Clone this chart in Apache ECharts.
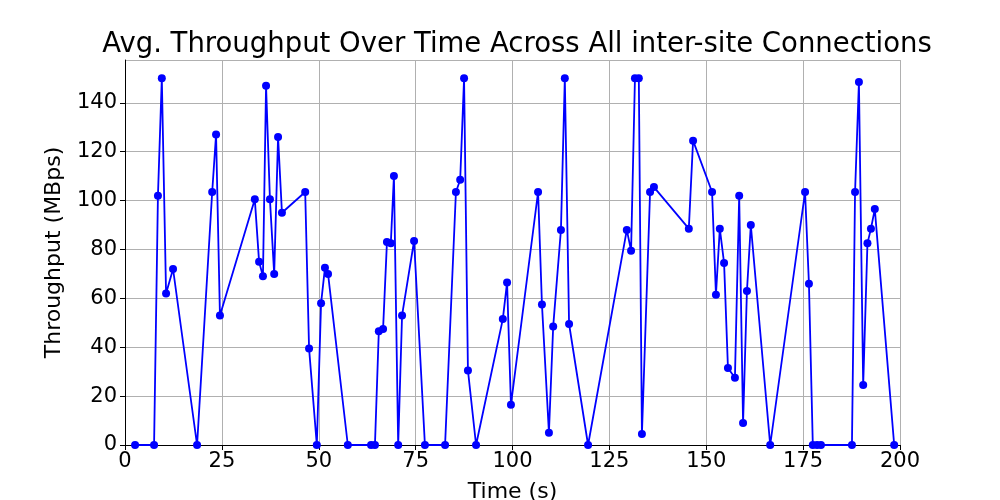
<!DOCTYPE html>
<html><head><meta charset="utf-8">
<script src="https://cdn.jsdelivr.net/npm/echarts@6/dist/echarts.min.js"></script>
</head><body style="margin:0">
<div id="c" style="width:1000px;height:500px"></div>
<script>
const times=[2.6,7.5,8.5,9.5,10.6,12.4,18.6,22.5,23.5,24.5,33.5,34.6,35.6,36.4,37.4,38.5,39.5,40.5,46.5,47.5,49.5,50.6,51.6,52.4,57.5,63.5,64.5,65.5,66.6,67.6,68.6,69.4,70.5,71.5,74.6,77.4,82.6,85.4,86.5,87.5,88.5,90.6,97.5,98.6,99.6,106.6,107.6,109.4,110.5,112.5,113.5,114.6,119.5,129.5,130.6,131.6,132.6,133.4,135.5,136.5,145.5,146.6,151.5,152.5,153.5,154.6,155.6,157.4,158.5,159.5,160.5,161.5,166.5,175.5,176.5,177.5,178.6,179.6,187.6,188.4,189.4,190.5,191.6,192.5,193.5,198.5];
const throughput=[0,0,102,150,62,72,0,103.5,127,53,100.5,75,69,147,100.5,70,126,95,103.5,39.5,0,58,72.5,70,0,0,0,46.5,47.5,83,82.5,110,0,53,83.5,0,0,103.5,108.5,150,30.5,0,51.5,66.5,16.5,103.5,57.5,5,48.5,88,150,49.5,0,88,79.5,150,150,4.5,103.5,105.5,88.5,124.5,103.5,61.5,88.5,74.5,31.5,27.5,102,9,63,90,0,103.5,66,0,0,0,0,103.5,148.5,24.5,82.5,88.5,96.5,0];
const c=echarts.init(document.getElementById('c'));
const F='DejaVu Sans';
c.setOption({
 animation:false,
 title:{text:'Avg. Throughput Over Time Across All inter-site Connections',left:512,top:26,textAlign:'center',textStyle:{fontFamily:F,fontSize:27.5,fontWeight:'normal',color:'#000'}},
 grid:{left:125,right:100,top:60,bottom:55,containLabel:false,outerBoundsMode:'none'},
 xAxis:{type:'value',min:0,max:200,interval:25,name:'Time (s)',nameLocation:'middle',nameGap:36,
  nameTextStyle:{fontFamily:F,fontSize:22,color:'#000'},
  axisLine:{onZero:false,lineStyle:{color:'#000'}},axisTick:{show:true,length:5,lineStyle:{color:'#000'}},
  axisLabel:{fontFamily:F,fontSize:21,color:'#000',margin:6},splitLine:{show:true,lineStyle:{color:'#b0b0b0'}}},
 yAxis:{type:'value',min:0,max:157.5,interval:20,name:'Throughput (MBps)',nameLocation:'middle',nameGap:60,
  nameTextStyle:{fontFamily:F,fontSize:22,color:'#000'},
  axisLine:{show:true,lineStyle:{color:'#000'}},axisTick:{show:true,length:5,lineStyle:{color:'#000'}},
  axisLabel:{fontFamily:F,fontSize:21,color:'#000',showMaxLabel:false,margin:8},splitLine:{show:true,lineStyle:{color:'#b0b0b0'}}},
 series:[{type:'line',data:times.map((t,i)=>[t,throughput[i]]),symbol:'circle',symbolSize:8,
  lineStyle:{color:'#0000ff',width:1.8},itemStyle:{color:'#0000ff'}}]
});
</script></body></html>
